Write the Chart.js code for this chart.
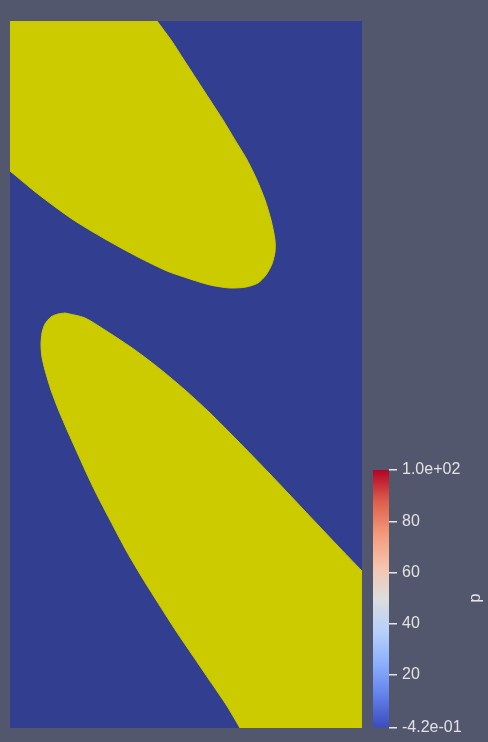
<!DOCTYPE html>
<html>
<head>
<meta charset="utf-8">
<script src="https://cdn.jsdelivr.net/npm/chart.js@4.4.0/dist/chart.umd.min.js"></script>
<style>
  html, body { margin: 0; padding: 0; background: #52576e; width: 488px; height: 742px; overflow: hidden; }
  #main { position: absolute; left: 10px; top: 21px; }
  #bar { position: absolute; left: 373px; top: 455px; }
</style>
</head>
<body>
<canvas id="main" width="352" height="707" style="width:352px;height:707px"></canvas>
<canvas id="bar" width="115" height="287" style="width:115px;height:287px"></canvas>
<script>
// Domain extent (data units)
const domainX = [0, 1];
const domainY = [0, 2];

// Upper yellow region boundary (data units); corner points are repeated so the edges stay straight
const upperX = [0.0000, 0.4176, 0.4176, 0.4574, 0.4943, 0.5313, 0.5682, 0.6051, 0.6392, 0.6705, 0.6989, 0.7244, 0.7415, 0.7528, 0.7528, 0.7443, 0.7273, 0.7045, 0.6705, 0.6250, 0.5682, 0.5114, 0.4460, 0.3636, 0.2699, 0.1761, 0.0795, 0.0000, 0.0000];
const upperY = [2.0000, 2.0000, 2.0000, 1.9463, 1.8897, 1.8331, 1.7765, 1.7199, 1.6634, 1.6124, 1.5559, 1.4936, 1.4371, 1.3805, 1.3465, 1.3126, 1.2815, 1.2588, 1.2475, 1.2447, 1.2532, 1.2702, 1.2928, 1.3324, 1.3833, 1.4399, 1.5106, 1.5757, 1.5757];

// Lower yellow region boundary (data units)
const lowerX = [0.1563, 0.2131, 0.2784, 0.3551, 0.4261, 0.4972, 0.5682, 0.6449, 0.7386, 0.8324, 0.9290, 1.0000, 1.0000, 1.0000, 1.0000, 0.6534, 0.6534, 0.6165, 0.5682, 0.5199, 0.4716, 0.4261, 0.3778, 0.3324, 0.2841, 0.2443, 0.2159, 0.1903, 0.1648, 0.1392, 0.1165, 0.0994, 0.0909, 0.0881, 0.0909, 0.0994, 0.1165, 0.1364, 0.1563];
const lowerY = [1.1740, 1.1598, 1.1202, 1.0693, 1.0156, 0.9562, 0.8911, 0.8147, 0.7185, 0.6195, 0.5177, 0.4441, 0.4441, 0.0000, 0.0000, 0.0000, 0.0000, 0.0622, 0.1330, 0.2037, 0.2744, 0.3451, 0.4215, 0.4979, 0.5884, 0.6648, 0.7242, 0.7808, 0.8373, 0.8967, 0.9562, 1.0127, 1.0495, 1.0835, 1.1174, 1.1429, 1.1627, 1.1711, 1.1740];

// Colour bar
const rangeMin = -0.42;
const rangeMax = 100;
const cbTickValues = [-0.42, 20, 40, 60, 80, 100];
const cbTickLabels = ["-4.2e-01", "20", "40", "60", "80", "1.0e+02"];
const cbTitle = "p";

const BLUE = '#323e8f';
const YELLOW = '#cbcb00';

function pts(xs, ys) { return xs.map((x, i) => ({ x: x, y: ys[i] })); }

const bgPlugin = {
  id: 'bg',
  beforeDraw(chart) {
    const a = chart.chartArea, c = chart.ctx;
    c.save(); c.fillStyle = BLUE; c.fillRect(a.left, a.top, a.right - a.left, a.bottom - a.top); c.restore();
  }
};

new Chart(document.getElementById('main'), {
  type: 'line',
  data: {
    datasets: [
      { data: pts(upperX, upperY), borderColor: YELLOW, backgroundColor: YELLOW, borderWidth: 1, fill: 'shape', pointRadius: 0, tension: 0.25 },
      { data: pts(lowerX, lowerY), borderColor: YELLOW, backgroundColor: YELLOW, borderWidth: 1, fill: 'shape', pointRadius: 0, tension: 0.25 }
    ]
  },
  options: {
    responsive: false, animation: false,
    layout: { padding: 0 },
    plugins: { legend: { display: false }, tooltip: { enabled: false } },
    scales: {
      x: { type: 'linear', min: domainX[0], max: domainX[1], display: false },
      y: { type: 'linear', min: domainY[0], max: domainY[1], display: false }
    }
  },
  plugins: [bgPlugin]
});

const coolWarm = [
  [0.000, 'rgb(59,76,192)'], [0.125, 'rgb(98,130,234)'], [0.250, 'rgb(141,176,254)'],
  [0.375, 'rgb(184,208,249)'], [0.500, 'rgb(221,221,221)'], [0.625, 'rgb(245,196,173)'],
  [0.750, 'rgb(244,154,123)'], [0.875, 'rgb(222,96,77)'], [1.000, 'rgb(180,4,38)']
];

const titlePlugin = {
  id: 'cbTitle',
  afterDraw(chart) {
    const c = chart.ctx;
    c.save();
    c.translate(103, 143);
    c.rotate(-Math.PI / 2);
    c.fillStyle = '#e6e6e6';
    c.font = '16px "Liberation Sans", Arial, sans-serif';
    c.textAlign = 'center'; c.textBaseline = 'middle';
    c.fillText(cbTitle, 0, 0);
    c.restore();
  }
};

new Chart(document.getElementById('bar'), {
  type: 'bar',
  data: {
    labels: [cbTitle],
    datasets: [{
      data: [[rangeMin, rangeMax]],
      barPercentage: 1, categoryPercentage: 1, borderWidth: 0, borderSkipped: false,
      backgroundColor(ctx) {
        const a = ctx.chart.chartArea;
        if (!a) return '#888';
        const g = ctx.chart.ctx.createLinearGradient(0, a.bottom, 0, a.top);
        coolWarm.forEach(s => g.addColorStop(s[0], s[1]));
        return g;
      }
    }]
  },
  options: {
    responsive: false, animation: false,
    layout: { padding: { top: 15, bottom: 11, left: 0, right: 0 } },
    plugins: { legend: { display: false }, tooltip: { enabled: false } },
    scales: {
      x: { display: false },
      y: {
        position: 'right', min: rangeMin, max: rangeMax,
        afterFit(s) { s.width = 99; },
        afterBuildTicks(s) { s.ticks = cbTickValues.map(v => ({ value: v })); },
        border: { display: false },
        grid: { drawOnChartArea: false, drawTicks: true, tickLength: 8, color: '#e6e6e6', lineWidth: 1.5 },
        ticks: {
          padding: 5, color: '#e2e2e2',
          font: { family: '"Liberation Sans", Arial, sans-serif', size: 16 },
          callback(v, i) { return cbTickLabels[i]; }
        }
      }
    }
  },
  plugins: [titlePlugin]
});
</script>
</body>
</html>
